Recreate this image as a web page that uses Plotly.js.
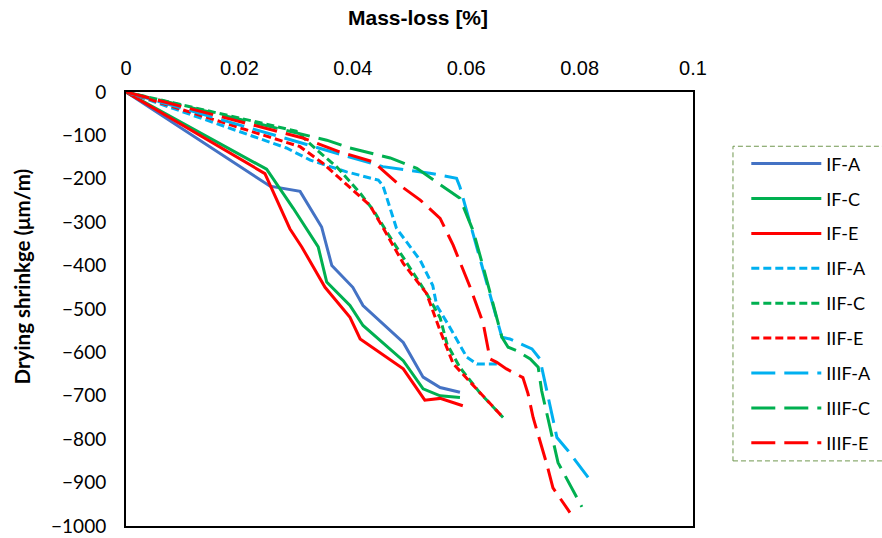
<!DOCTYPE html>
<html>
<head>
<meta charset="utf-8">
<script src="https://cdn.plot.ly/plotly-3.0.1.min.js"></script>
<style>html,body{margin:0;padding:0;background:#fff;}#chart{width:882px;height:538px;}</style>
</head>
<body>
<div id="chart"></div>
<script>
var seriesNames = ["IF-A","IF-C","IF-E","IIF-A","IIF-C","IIF-E","IIIF-A","IIIF-C","IIIF-E"];

var IF_A_x = [0, 0.0254, 0.0307, 0.0345, 0.0363, 0.0400, 0.0418, 0.0489, 0.0524, 0.0554, 0.0589];
var IF_A_y = [0, -217, -229, -311, -400, -450, -492, -577, -657, -681, -692];

var IF_C_x = [0, 0.0248, 0.0295, 0.0339, 0.0354, 0.0395, 0.0418, 0.0489, 0.0524, 0.0554, 0.0589];
var IF_C_y = [0, -178, -268, -357, -438, -492, -538, -619, -684, -700, -704];

var IF_E_x = [0, 0.0245, 0.0289, 0.0310, 0.0351, 0.0395, 0.0413, 0.0442, 0.0489, 0.0527, 0.0554, 0.0594];
var IF_E_y = [0, -188, -315, -357, -450, -519, -569, -596, -638, -710, -706, -723];

var IIF_A_x = [0, 0.0283, 0.0325, 0.0389, 0.0445, 0.0453, 0.0477, 0.0519, 0.0541, 0.0548, 0.0571, 0.0601, 0.0619, 0.0654];
var IIF_A_y = [0, -129, -157, -184, -203, -215, -314, -388, -446, -492, -542, -611, -627, -627];

var IIF_C_x = [0, 0.0300, 0.0337, 0.0372, 0.0413, 0.0436, 0.0466, 0.0496, 0.0530, 0.0554, 0.0566, 0.0589, 0.0624, 0.0665];
var IIF_C_y = [0, -90, -134, -173, -233, -272, -335, -395, -464, -520, -580, -635, -693, -750];

var IIF_E_x = [0, 0.0307, 0.0347, 0.0395, 0.0430, 0.0453, 0.0489, 0.0530, 0.0554, 0.0577, 0.0624, 0.0665];
var IIF_E_y = [0, -126, -164, -219, -261, -312, -395, -464, -550, -626, -693, -750];

var IIIF_A_x = [0, 0.0383, 0.0453, 0.0536, 0.0583, 0.0589, 0.0663, 0.0677, 0.0716, 0.0730, 0.0739, 0.0753, 0.0760, 0.0780, 0.0815];
var IIIF_A_y = [0, -145, -172, -187, -199, -219, -565, -569, -592, -615, -669, -750, -796, -827, -888];

var IIIF_C_x = [0, 0.0354, 0.0395, 0.0466, 0.0513, 0.0559, 0.0589, 0.0612, 0.0630, 0.0663, 0.0674, 0.0689, 0.0713, 0.0727, 0.0733, 0.0762, 0.0792, 0.0804];
var IIIF_C_y = [0, -111, -129, -152, -176, -219, -245, -319, -403, -565, -588, -596, -615, -634, -688, -854, -926, -956];

var IIIF_E_x = [0, 0.0312, 0.0377, 0.0436, 0.0483, 0.0519, 0.0554, 0.0577, 0.0607, 0.0630, 0.0642, 0.0654, 0.0671, 0.0700, 0.0709, 0.0718, 0.0742, 0.0753, 0.0765, 0.0783];
var IIIF_E_y = [0, -106, -138, -161, -215, -249, -291, -353, -450, -533, -615, -623, -638, -658, -695, -750, -857, -912, -935, -969];

var xTicks = [0, 0.02, 0.04, 0.06, 0.08, 0.1];
var xTickText = ["0", "0.02", "0.04", "0.06", "0.08", "0.1"];
var yTicks = [0, -100, -200, -300, -400, -500, -600, -700, -800, -900, -1000];
var xTitle = "Mass-loss [%]";
var yTitle = "Drying shrinkge (μm/m)";

var xs = [IF_A_x, IF_C_x, IF_E_x, IIF_A_x, IIF_C_x, IIF_E_x, IIIF_A_x, IIIF_C_x, IIIF_E_x];
var ys = [IF_A_y, IF_C_y, IF_E_y, IIF_A_y, IIF_C_y, IIF_E_y, IIIF_A_y, IIIF_C_y, IIIF_E_y];
var colors = ["#4472C4", "#00B050", "#FF0000", "#00B0F0", "#00B050", "#FF0000", "#00B0F0", "#00B050", "#FF0000"];
var dashes = ["solid", "solid", "solid", "8px,4px", "8px,4px", "8px,4px", "24px,9px", "24px,9px", "24px,9px"];

var traces = seriesNames.map(function (n, i) {
  return {
    type: "scatter", mode: "lines", name: n, x: xs[i], y: ys[i],
    legendgroup: "g" + i,
    line: {color: colors[i], width: 3, dash: dashes[i]}
  };
});

var layout = {
  width: 882, height: 538,
  margin: {l: 126, r: 189, t: 92, b: 12, autoexpand: false},
  paper_bgcolor: "#fff", plot_bgcolor: "#fff",
  showlegend: true,
  legend: {
    x: 1.094, xanchor: "left", y: 0.877, yanchor: "top",
    font: {family: "Lato, Calibri, sans-serif", size: 18, color: "#000"},
    itemwidth: 70, tracegroupgap: 8.5, bgcolor: "rgba(0,0,0,0)", borderwidth: 0
  },
  xaxis: {
    side: "top", range: [0, 0.1], tickvals: xTicks, ticktext: xTickText,
    showgrid: false, zeroline: false, ticks: "",
    showline: true, mirror: true, linecolor: "#000", linewidth: 2,
    tickfont: {family: "Liberation Sans, Arial, sans-serif", size: 20, color: "#000"},
    ticklabelstandoff: 7
  },
  yaxis: {
    range: [-1000, 0], tickvals: yTicks,
    showgrid: false, zeroline: false, ticks: "",
    showline: true, mirror: true, linecolor: "#000", linewidth: 2,
    tickfont: {family: "Lato, Calibri, sans-serif", size: 19, color: "#000"},
    ticklabelstandoff: 14
  },
  annotations: [
    {text: xTitle, xref: "paper", yref: "paper", x: 0.515, y: 1.171, xanchor: "center", yanchor: "middle",
     showarrow: false, font: {family: "Liberation Sans, Arial, sans-serif", size: 21, color: "#000", weight: "bold"}},
    {text: yTitle, xref: "paper", yref: "paper", x: -0.1834, y: 0.575, xanchor: "center", yanchor: "middle",
     textangle: -90, showarrow: false, font: {family: "Lato, Calibri, sans-serif", size: 20.5, color: "#000", weight: "bold"}}
  ],
  shapes: [{
    type: "rect", xref: "paper", yref: "paper",
    x0: 1.0705, x1: 1.345, y0: 0.150, y1: 0.875,
    line: {color: "#70974F", width: 1, dash: "5px,3px"}, fillcolor: "rgba(0,0,0,0)"
  }]
};

Plotly.newPlot("chart", traces, layout, {displayModeBar: false, staticPlot: true});
</script>
</body>
</html>
